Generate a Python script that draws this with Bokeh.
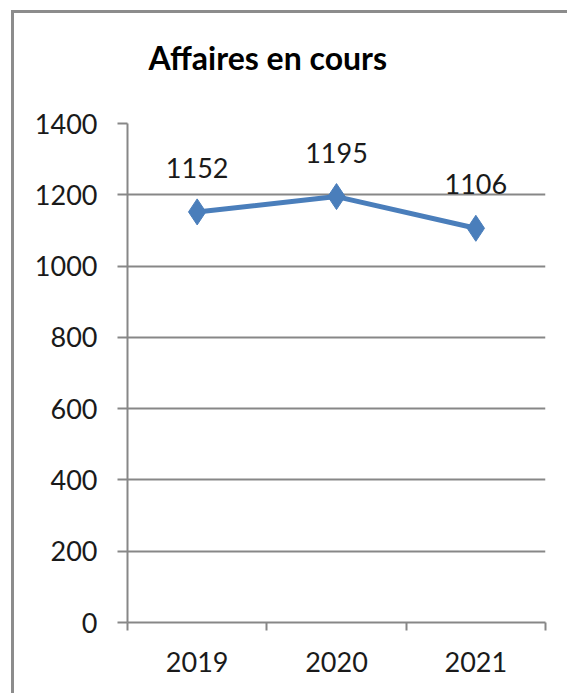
from bokeh.plotting import figure
from bokeh.models import FixedTicker, Range1d, ColumnDataSource, LabelSet
from bokeh.core.properties import value
from bokeh.embed import file_html
from bokeh.resources import INLINE

title = "Affaires en cours"
years = ["2019", "2020", "2021"]
values = [1152, 1195, 1106]
y_ticks = [0, 200, 400, 600, 800, 1000, 1200, 1400]

xs = [i + 0.5 for i in range(len(years))]
src = ColumnDataSource(dict(x=xs, y=values, lbl=[str(v) for v in values]))

FONT = "Lato"
GRAY = "#878787"
BLUE = "#4A7EBB"
FS = "27px"

p = figure(width=556, height=683, output_backend="svg", toolbar_location=None,
           x_range=Range1d(0, len(years)), y_range=Range1d(0, 1400),
           min_border_left=116, min_border_right=22, min_border_top=113, min_border_bottom=71)
p.styles = {"margin-left": "11px", "margin-top": "10px", "overflow": "hidden",
            "box-shadow": "inset 3px 3px 0px 0px #8c8c8c"}
p.outline_line_color = None
p.background_fill_color = "white"
p.border_fill_alpha = 0

p.title.text = title + "\n\u00a0"
p.title.align = "left"
p.title.offset = 21
p.title.standoff = 16
p.title.text_font = FONT
p.title.text_font_style = "bold"
p.title.text_font_size = "32px"
p.title.text_color = "#000000"

# y axis
p.yaxis.ticker = FixedTicker(ticks=y_ticks)
p.yaxis.axis_line_color = GRAY
p.yaxis.axis_line_width = 2
p.yaxis.major_tick_line_color = GRAY
p.yaxis.major_tick_line_width = 2
p.yaxis.major_tick_out = 10
p.yaxis.major_tick_in = 0
p.yaxis.minor_tick_line_color = None
p.yaxis.major_label_standoff = 20
p.yaxis.major_label_text_font = FONT
p.yaxis.major_label_text_font_size = FS
p.yaxis.major_label_text_color = "#1a1a1a"

# x axis: labels at centers, ticks at boundaries (minor ticks)
p.xaxis.ticker = FixedTicker(ticks=xs, minor_ticks=list(range(len(years) + 1)))
p.xaxis.major_label_overrides = {x: y for x, y in zip(xs, years)}
p.xaxis.axis_line_color = GRAY
p.xaxis.axis_line_width = 2
p.xaxis.major_tick_line_color = None
p.xaxis.minor_tick_line_color = GRAY
p.xaxis.minor_tick_line_width = 2
p.xaxis.minor_tick_out = 8
p.xaxis.minor_tick_in = 0
p.xaxis.major_label_standoff = 21
p.xaxis.major_label_text_font = FONT
p.xaxis.major_label_text_font_size = FS
p.xaxis.major_label_text_color = "#1a1a1a"

p.xgrid.grid_line_color = None
p.ygrid.grid_line_color = GRAY
p.ygrid.grid_line_width = 2
p.ygrid.ticker = FixedTicker(ticks=y_ticks[1:])

p.line("x", "y", source=src, line_color=BLUE, line_width=5)
p.scatter("x", "y", source=src, marker="diamond", size=26, fill_color=BLUE, line_color=BLUE)

p.add_layout(LabelSet(x="x", y="y", text="lbl", source=src, y_offset=44,
                      text_align="center", text_baseline="middle",
                      text_font=value(FONT), text_font_size=FS, text_color="#1a1a1a"))

open("out.html", "w").write(file_html(p, INLINE))
